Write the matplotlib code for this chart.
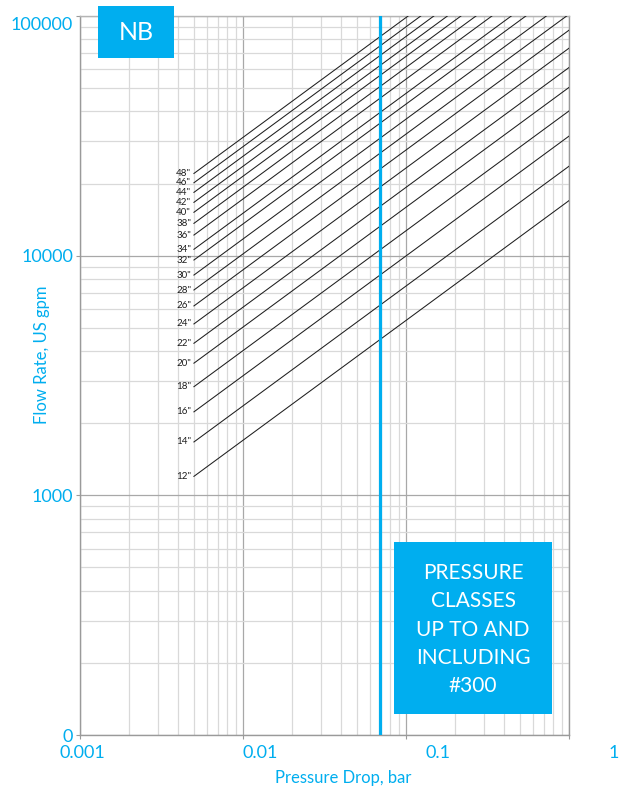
"""
Pressure drop chart for NB valves: flow rate vs pressure drop per size.
Writes out.png
"""

import numpy as np
import matplotlib
matplotlib.use('Agg')
import matplotlib.pyplot as plt
from matplotlib.patches import Rectangle
import matplotlib.ticker as ticker
import matplotlib.transforms as mtransforms

plt.rcParams['font.family'] = ['Lato', 'DejaVu Sans']

# ------------------------------------------------------------
# Data
# ------------------------------------------------------------

SIZES = ['12"', '14"', '16"', '18"', '20"', '22"', '24"', '26"', '28"', '30"',
         '32"', '34"', '36"', '38"', '40"', '42"', '44"', '46"', '48"']

# flow (US gpm) at the start of each curve (dp = 0.005 bar)
FLOW_START = [1200, 1670, 2230, 2840, 3560, 4310, 5190, 6170, 7190, 8300,
              9590, 10630, 12190, 13640, 15170, 16690, 18370, 20150, 22030]

DP_START = 0.005      # bar
DP_END = 1.0          # bar
EXPONENT = 0.5        # Q ~ dp^0.5

DP_LIMIT = 0.069      # bar, class #300 limit line

X_TICKS = [0.001, 0.01, 0.1, 1]
X_LABELS = ['0.001', '0.01', '0.1', '1']
Y_TICKS = [100, 1000, 10000, 100000]
Y_LABELS = ['0', '1000', '10000', '100000']

BOX_LINES = ['PRESSURE', 'CLASSES', 'UP TO AND', 'INCLUDING', '#300']

BLUE = '#00AEEF'
SPINE = '#9a9a9a'

# ------------------------------------------------------------
# Figure
# ------------------------------------------------------------

W, H = 627, 791
fig = plt.figure(figsize=(W / 100, H / 100), dpi=100)

def px(x, y):
    """pixel (from top-left) -> figure fraction"""
    return x / W, 1 - y / H

ax_l, ax_r, ax_t, ax_b = 80, 569, 16, 735
ax = fig.add_axes([ax_l / W, 1 - ax_b / H, (ax_r - ax_l) / W, (ax_b - ax_t) / H])

ax.set_xscale('log')
ax.set_yscale('log')
ax.set_xlim(0.001, 1)
ax.set_ylim(100, 100000)

# grid
ax.xaxis.set_minor_locator(ticker.LogLocator(base=10, subs=np.arange(2, 10)))
ax.yaxis.set_minor_locator(ticker.LogLocator(base=10, subs=np.arange(2, 10)))
ax.grid(True, which='major', color='#a8a8a8', linewidth=0.9, zorder=0)
ax.grid(True, which='minor', color='#d9d9d9', linewidth=0.9, zorder=0)
ax.set_axisbelow(True)

for sp in ax.spines.values():
    sp.set_color(SPINE)
    sp.set_linewidth(1.0)
ax.spines['top'].set_color('#b5b5b5')

ax.tick_params(which='major', length=3, width=0.8, color=SPINE, direction='out')
ax.tick_params(which='minor', length=0)

# y tick labels
ax.set_yticks(Y_TICKS)
ax.set_yticklabels(Y_LABELS)
ax.yaxis.set_minor_formatter(ticker.NullFormatter())
ax.tick_params(axis='y', labelsize=13, labelcolor=BLUE, pad=2)
top_lab = ax.get_yticklabels()[-1]
top_lab.set_transform(top_lab.get_transform() +
                      mtransforms.ScaledTranslation(0, -8 / 100, fig.dpi_scale_trans))

# x tick labels are spread a bit wider than the gridlines
ax.set_xticks(X_TICKS)
ax.set_xticklabels([])
ax.xaxis.set_minor_formatter(ticker.NullFormatter())
for i, lab in enumerate(X_LABELS):
    ax.text(-0.041 + i * 0.374, -0.0245, lab, transform=ax.transAxes,
            ha='left', va='center', fontsize=13, color=BLUE)

fig.text(*px(343, 778), 'Pressure Drop, bar', ha='center', va='center',
         fontsize=12, color=BLUE)
fig.text(*px(42, 355), 'Flow Rate, US gpm', ha='center', va='center',
         rotation=90, fontsize=12, color=BLUE)

# size curves
for name, q0 in zip(SIZES, FLOW_START):
    dp = np.array([DP_START, DP_END])
    q = q0 * (dp / DP_START) ** EXPONENT
    ax.plot(dp, q, color='#1e1e1e', linewidth=0.75, zorder=3, clip_on=True)
    ax.annotate(name, xy=(DP_START, q0), xytext=(-2, 0),
                textcoords='offset points', ha='right', va='center',
                fontsize=7, color='#1e1e1e')

# class #300 limit
ax.axvline(DP_LIMIT, color=BLUE, linewidth=2.3, zorder=4)

# info box
bx0, by0, bx1, by1 = 394, 542, 552, 714
x0, y1 = px(bx0, by1)
fig.patches.append(Rectangle((x0, y1), (bx1 - bx0) / W, (by1 - by0) / H,
                             transform=fig.transFigure, facecolor=BLUE,
                             edgecolor='none', zorder=5))
for i, line in enumerate(BOX_LINES):
    fig.text(*px(473, 573 + i * 28.3), line, ha='center', va='center',
             fontsize=15, color='white', zorder=6)

# NB tag
nx0, ny0, nx1, ny1 = 98, 6, 174, 58
x0, y1 = px(nx0, ny1)
fig.patches.append(Rectangle((x0, y1), (nx1 - nx0) / W, (ny1 - ny0) / H,
                             transform=fig.transFigure, facecolor=BLUE,
                             edgecolor='none', zorder=5))
fig.text(*px(136, 33), 'NB', ha='center', va='center', fontsize=18,
         color='white', zorder=6)

fig.savefig('out.png', dpi=100)
